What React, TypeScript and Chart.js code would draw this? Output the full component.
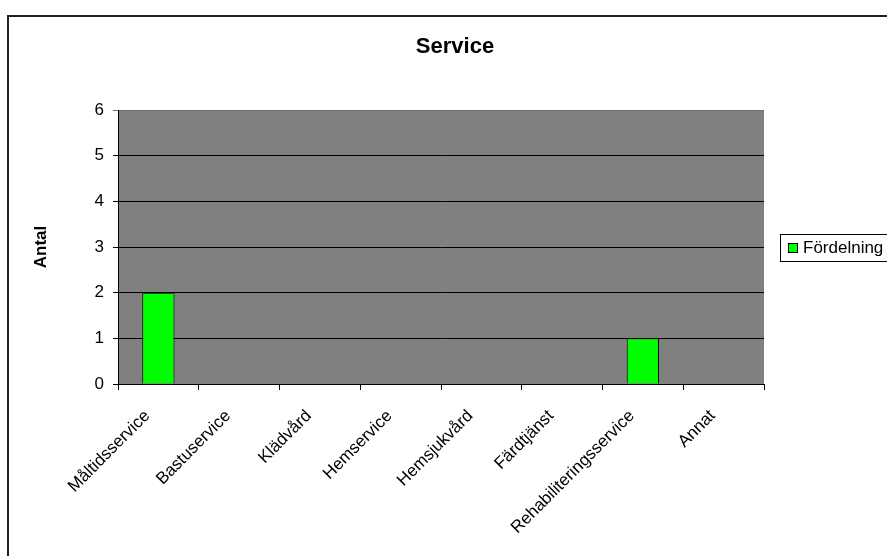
import React, { useEffect, useRef } from "react";
import { Chart, registerables } from "chart.js";

Chart.register(...registerables);

const categories = [
  "Måltidsservice",
  "Bastuservice",
  "Klädvård",
  "Hemservice",
  "Hemsjukvård",
  "Färdtjänst",
  "Rehabiliteringsservice",
  "Annat",
];
const fordelning = [2, 0, 0, 0, 0, 0, 1, 0];
const seriesLabel = "Fördelning";
const chartTitle = "Service";
const yAxisTitle = "Antal";
const yMin = 0;
const yMax = 6;

const FONT = "'Liberation Sans', Arial, sans-serif";

// Frame, plot background, title, axis title and legend box
const decorations = {
  id: "decorations",
  beforeDraw(chart: any) {
    const { ctx, chartArea } = chart;
    ctx.save();
    ctx.fillStyle = "#ffffff";
    ctx.fillRect(0, 0, chart.width, chart.height);
    ctx.fillStyle = "#808080";
    ctx.fillRect(
      chartArea.left,
      chartArea.top,
      chartArea.right - chartArea.left,
      chartArea.bottom - chartArea.top
    );
    ctx.restore();
  },
  afterDraw(chart: any) {
    const { ctx, chartArea } = chart;
    ctx.save();
    // outer frame
    ctx.strokeStyle = "#222222";
    ctx.lineWidth = 2;
    ctx.strokeRect(8, 16, 1000, 1000);

    // title
    ctx.fillStyle = "#000";
    ctx.font = `bold 22px ${FONT}`;
    ctx.textAlign = "center";
    ctx.textBaseline = "middle";
    ctx.fillText(chartTitle, 455, 47);

    // y axis title
    ctx.save();
    ctx.translate(41, (chartArea.top + chartArea.bottom) / 2);
    ctx.rotate(-Math.PI / 2);
    ctx.font = `bold 17px ${FONT}`;
    ctx.fillText(yAxisTitle, 0, 0);
    ctx.restore();

    // legend
    const ds = chart.data.datasets[0];
    ctx.fillStyle = "#ffffff";
    ctx.fillRect(780.5, 234.5, 200, 27);
    ctx.strokeStyle = "#000";
    ctx.lineWidth = 1;
    ctx.strokeRect(780.5, 234.5, 200, 27);
    ctx.fillStyle = ds.backgroundColor;
    ctx.fillRect(788.5, 243.5, 9, 9);
    ctx.strokeRect(788.5, 243.5, 9, 9);
    ctx.fillStyle = "#000";
    ctx.font = `17px ${FONT}`;
    ctx.textAlign = "left";
    ctx.textBaseline = "middle";
    ctx.fillText(ds.label, 803, 248);
    ctx.restore();
  },
};

export default function App() {
  const canvasRef = useRef<HTMLCanvasElement>(null);

  useEffect(() => {
    if (!canvasRef.current) return;
    const chart = new Chart(canvasRef.current, {
      type: "bar",
      data: {
        labels: categories,
        datasets: [
          {
            label: seriesLabel,
            data: fordelning,
            backgroundColor: "#00FF00",
            borderColor: "#000000",
            borderWidth: 1,
            categoryPercentage: 1,
            barPercentage: 0.4,
          },
        ],
      },
      options: {
        animation: false,
        responsive: false,
        maintainAspectRatio: false,
        devicePixelRatio: 1,
        layout: { padding: { top: 110, right: 123, left: 0, bottom: 0 } },
        plugins: {
          legend: { display: false },
          title: { display: false },
          tooltip: { enabled: false },
        },
        scales: {
          x: {
            afterFit(scale: any) {
              scale.height = 172;
            },
            grid: {
              display: true,
              drawOnChartArea: false,
              color: "#000",
              tickLength: 6,
              offset: true,
            },
            border: { display: true, color: "#000", width: 1 },
            ticks: {
              color: "#000",
              font: { family: FONT, size: 17 },
              minRotation: 45,
              maxRotation: 45,
              autoSkip: false,
              padding: 16,
              labelOffset: -11,
            },
          },
          y: {
            min: yMin,
            max: yMax,
            afterFit(scale: any) {
              scale.width = 118;
            },
            grid: {
              color: (c: any) => (c.tick && c.tick.value === yMax ? "#6f6f6f" : "#000"),
              tickLength: 5,
            },
            border: { display: true, color: "#000", width: 1 },
            ticks: {
              stepSize: 1,
              color: "#000",
              font: { family: FONT, size: 17 },
              padding: 9,
            },
          },
        },
      },
      plugins: [decorations],
    });
    return () => chart.destroy();
  }, []);

  return (
    <div style={{ position: "fixed", left: 0, top: 0, width: 887, height: 556 }}>
      <canvas ref={canvasRef} width={887} height={556} style={{ display: "block" }} />
    </div>
  );
}
